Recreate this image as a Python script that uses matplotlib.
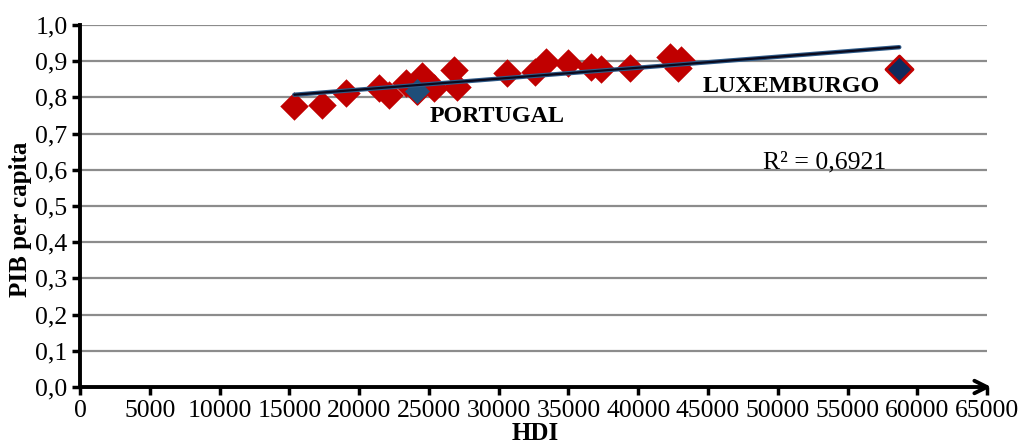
import numpy as np
import matplotlib
matplotlib.use("Agg")
import matplotlib.pyplot as plt

# Dados
hdi = [15360, 17360, 19070, 21430, 22140, 23360, 24500, 25360, 26790, 27000,
       30570, 32640, 33360, 35000, 36640, 37360, 39430, 42290, 42860, 43070]
pib = [0.776, 0.779, 0.812, 0.826, 0.807, 0.840, 0.859, 0.826, 0.876, 0.829,
       0.867, 0.870, 0.898, 0.895, 0.884, 0.878, 0.881, 0.912, 0.881, 0.903]

portugal = (24140, 0.818)
luxemburgo = (58710, 0.878)

plt.rcParams['font.family'] = ['Liberation Serif', 'DejaVu Serif']

fig = plt.figure(figsize=(10.22, 4.47), dpi=100)
ax = fig.add_axes([0.0783, 0.1342, 0.8875, 0.8098])

# linhas de grelha
for v in np.arange(0.1, 1.01, 0.1):
    ax.axhline(v, color='#8c8c8c', lw=1.6, zorder=1)

ax.scatter(hdi, pib, marker='D', s=210, color='#c00000', zorder=3, linewidths=0)
ax.scatter([portugal[0]], [portugal[1]], marker='D', s=190, color='#1f4e79',
           edgecolors='#c00000', linewidths=1, zorder=4)
ax.scatter([luxemburgo[0]], [luxemburgo[1]], marker='D', s=190, color='#0f2a5c',
           edgecolors='#c00000', linewidths=2, zorder=4)

# linha de tendência
xs = np.array(hdi + [portugal[0], luxemburgo[0]])
ys = np.array(pib + [portugal[1], luxemburgo[1]])
a, b = np.polyfit(xs, ys, 1)
xl = np.array([xs.min(), xs.max()])
ax.plot(xl, a * xl + b, color='#2e5a88', lw=3.2, zorder=5, solid_capstyle='round')
ax.plot(xl, a * xl + b, color='#0a0a1e', lw=1.6, zorder=6, solid_capstyle='round')

ax.text(29860, 0.746, 'PORTUGAL', fontsize=17.3, fontweight='bold', ha='center', va='center')
ax.text(51000, 0.829, 'LUXEMBURGO', fontsize=17.3, fontweight='bold', ha='center', va='center')
ax.text(53360, 0.619, 'R² = 0,6921', fontsize=18.5, ha='center', va='center')

ax.set_xlim(0, 65000)
ax.set_ylim(0, 1.0)
ax.set_xticks(np.arange(0, 65001, 5000))
ax.set_yticks(np.arange(0, 1.01, 0.1))
ax.set_yticklabels([f'{v:.1f}'.replace('.', ',') for v in np.arange(0, 1.01, 0.1)])
ax.tick_params(labelsize=18.5, length=6, width=2.5, direction='out', pad=3)

for s in ['top', 'right', 'bottom']:
    ax.spines[s].set_visible(False)
ax.spines['left'].set_linewidth(2.8)
ax.spines['left'].set_zorder(7)

ax.annotate('', xy=(65300, 0), xytext=(0, 0), xycoords='data',
            arrowprops=dict(arrowstyle='->,head_length=0.9,head_width=0.45', lw=2.8, color='black',
                            shrinkA=0, shrinkB=0),
            annotation_clip=False, zorder=8)

fig.text(0.02, 0.51, 'PIB per capita', rotation=90, fontsize=18, fontweight='bold',
         ha='center', va='center')
fig.text(0.524, 0.005, 'HDI', fontsize=18, fontweight='bold', ha='center', va='bottom')

fig.savefig('out.png', dpi=100)
